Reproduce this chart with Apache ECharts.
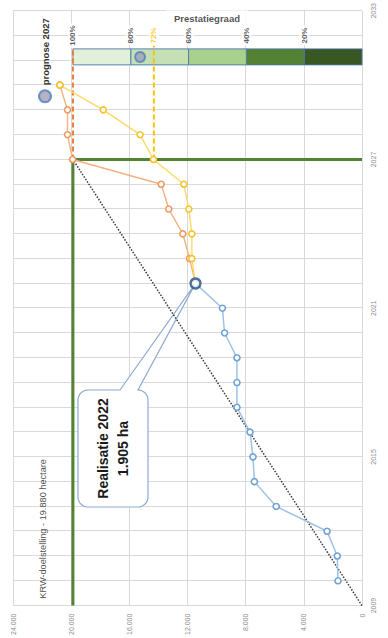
<!DOCTYPE html>
<html><head><meta charset="utf-8">
<script src="https://cdn.jsdelivr.net/npm/echarts@6/dist/echarts.min.js"></script>
<style>
html,body{margin:0;padding:0;width:388px;height:638px;overflow:hidden;background:#fff}
#wrap{position:absolute;left:0;top:0;width:638px;height:388px;transform-origin:0 0;transform:translate(0,638px) rotate(-90deg)}
</style></head><body>
<div id="wrap"></div>
<script>
// ---- data ----
const startYear = 2009;
const endYear = 2033;
const yearLabelStep = 6;
const valueMax = 24000;
const valueStep = 4000;
const realYears = [2010,2011,2012,2013,2014,2015,2016,2017,2018,2019,2020,2021,2022];
const realValues = [1650,1700,2400,5900,7400,7500,7700,8600,8600,8600,9450,9600,11450];
const progYears = [2022,2023,2024,2025,2026,2027,2028,2029,2030];
const orangeValues = [11450,11860,12320,13290,13810,19900,20250,20250,20780];
const yellowValues = [11450,11700,11700,11910,12250,14340,15260,17790,20780];
const targetValue = 19880;
const targetYear = 2027;
const pctBandEdges = [0,20,40,60,80,100];   // prestatiegraad bands (%)
const pctLabels = [100,80,60,40,20];
const yellowPct = 72;
const barYear = 2031.14;
const pctLabelYear = 2032;
const dashEndOrange = 2031.5;
const dashEndYellow = 2031.6;
const prognoseName = 'prognose 2027';
const prognosePoint = [2031.14, 15260];
const realLabelYear = 2022;
const titleText = 'Prestatiegraad';
const titlePos = [2032.70, 10660];
const krwText = 'KRW-doelstelling - 19.880 hectare';
const krwPos = [2009.28, 21950];
const calloutText = 'Realisatie 2022\n1.905 ha';

// ---- styles ----
const FONT = 'Liberation Sans, Arial, sans-serif';
const bandColors = ['#385723','#548235','#a9d18e','#c5e0b4','#e2f0d9'];

const fmt = v => String(v).replace(/\B(?=(\d{3})+(?!\d))/g, '.');
const pctToVal = p => p * targetValue / 100;

const chart = echarts.init(document.getElementById('wrap'), null, {renderer: 'svg', width: 638, height: 388});

const series = [];
// target step line
series.push({type:'line', name:'target', data:[[startYear,targetValue],[targetYear,targetValue],[targetYear,0]],
  symbol:'none', lineStyle:{color:'#548235', width:3}, z:3, silent:true});
// trajectory dotted
series.push({type:'line', name:'traject', data:[[startYear,0],[targetYear,targetValue]],
  symbol:'none', lineStyle:{color:'#3a3a3a', width:1.5, type:[1.5,1.5]}, z:7, silent:true});
// prestatiegraad bar (bands)
const bandData = [];
for (let i = 0; i < pctBandEdges.length - 1; i++) {
  bandData.push([barYear, pctToVal(pctBandEdges[i]), pctToVal(pctBandEdges[i+1]), i]);
}
series.push({type:'custom', name:'bands', data:bandData, encode:{x:0, y:[1,2]}, z:2, silent:true,
  renderItem:(params, api)=>{
    const x = api.value(0);
    const p0 = api.coord([x, api.value(1)]);
    const p1 = api.coord([x, api.value(2)]);
    const w = 16;
    return {type:'rect', shape:{x:p0[0]-w/2, y:p1[1], width:w, height:p0[1]-p1[1]},
      style:{fill:bandColors[api.value(3)], stroke:'#4a76a8', lineWidth:0.9}};
  }});
// dashed 100% and 72%
series.push({type:'line', name:'d100', data:[[targetYear,pctToVal(100)],[dashEndOrange,pctToVal(100)]],
  symbol:'none', lineStyle:{color:'#ed7d31', width:2, type:[5,3]}, z:4, silent:true});
series.push({type:'line', name:'d72', data:[[targetYear,pctToVal(yellowPct)],[dashEndYellow,pctToVal(yellowPct)]],
  symbol:'none', lineStyle:{color:'#ffc000', width:2, type:[5,3]}, z:4, silent:true});
// realisatie
series.push({type:'line', name:'realisatie', data: realYears.map((y,i)=>[y, realValues[i]]),
  symbol:'circle', symbolSize:6, lineStyle:{color:'#9dc3e6', width:1.5},
  itemStyle:{color:'#fff', borderColor:'#6fa3d8', borderWidth:1.6}, z:8});
// orange & yellow prognoses
const progData = vals => progYears.map((y,i)=> i===0 ? {value:[y,vals[i]], symbol:'none'} : [y, vals[i]]);
series.push({type:'line', name:'oranje', data: progData(orangeValues),
  symbol:'circle', symbolSize:6, lineStyle:{color:'#f4b183', width:1.4},
  itemStyle:{color:'#fff', borderColor:'#f19a5e', borderWidth:1.6}, z:8});
series.push({type:'line', name:'geel', data: progData(yellowValues),
  symbol:'circle', symbolSize:6, lineStyle:{color:'#ffd966', width:1.4},
  itemStyle:{color:'#fff', borderColor:'#f5c32c', borderWidth:1.6}, z:8});
// 2022 highlight
const realIdx = realYears.indexOf(realLabelYear);
series.push({type:'scatter', name:'r2022', data:[[realLabelYear, realValues[realIdx]]], symbolSize:10,
  itemStyle:{color:'#fff', borderColor:'#1f4e79', borderWidth:2.5}, z:20});
// prognose 2027 marker
series.push({type:'scatter', name:prognoseName, data:[prognosePoint], symbolSize:10,
  itemStyle:{color:'#a29fb9', borderColor:'#4f81bd', borderWidth:2}, z:9});
// percentage labels
series.push({type:'scatter', name:'pctLabels', symbolSize:1, itemStyle:{color:'rgba(0,0,0,0)'}, z:6, silent:true,
  data: pctLabels.map(p=>({value:[pctLabelYear, pctToVal(p)], name:p+'%'})).concat([
    {value:[pctLabelYear, pctToVal(yellowPct)], name: yellowPct+'%', label:{color:'#ffc000'}}]),
  label:{show:true, position:'inside', formatter: p=>p.name, fontSize:8, fontWeight:'bold', color:'#333',
    fontFamily:FONT, backgroundColor:'#fff', padding:[1,2]}});
// text annotations
series.push({type:'scatter', name:'texts', symbolSize:1, itemStyle:{color:'rgba(0,0,0,0)'}, z:6, silent:true,
  data:[
    {value:titlePos, name:titleText, label:{rotate:-90, fontSize:9.5, fontWeight:'bold', color:'#262626', backgroundColor:'#fff', padding:[3,8], align:'center'}},
    {value:krwPos, name:krwText, label:{fontSize:9.2, color:'#1a1a1a', align:'left'}}
  ],
  label:{show:true, position:'inside', formatter:p=>p.name, fontFamily:FONT, verticalAlign:'middle'}});

chart.setOption({
  animation:false,
  backgroundColor:'#fff',
  textStyle:{fontFamily:FONT},
  grid:{left:31, right:10.5, top:13, bottom:26, containLabel:false},
  legend:{data:[prognoseName], left:529.7, top:33, padding:5, itemWidth:12, itemHeight:12, icon:'circle', itemGap:4,
    textStyle:{fontSize:9.5, fontWeight:'bold', color:'#333', fontFamily:FONT}},
  xAxis:{type:'value', min:startYear, max:endYear, interval:1,
    axisLine:{show:false}, axisTick:{show:false},
    splitLine:{show:true, lineStyle:{color:'#d9d9d9', width:1}},
    axisLabel:{fontSize:7, color:'#8c8c8c', margin:8, fontFamily:FONT,
      formatter:v => ((v-startYear)%yearLabelStep===0 ? String(v) : '')}},
  yAxis:{type:'value', min:0, max:valueMax, interval:valueStep,
    axisLine:{show:false}, axisTick:{show:false},
    splitLine:{show:true, lineStyle:{color:'#d9d9d9', width:1}},
    axisLabel:{fontSize:7, color:'#8c8c8c', margin:8, fontFamily:FONT, formatter:v=>fmt(v)}},
  series
});

// callout
const tip = chart.convertToPixel({xAxisIndex:0, yAxisIndex:0}, [realLabelYear, realValues[realIdx]]);
const box = {u0:131, u1:248, v0:78, v1:148, r:10, wA:120, wB:138};
function arc(cx,cy,r,a0,a1){const pts=[];for(let k=0;k<=8;k++){const a=(a0+(a1-a0)*k/8)*Math.PI/180;pts.push([cx+r*Math.cos(a),cy+r*Math.sin(a)]);}return pts;}
let pts = [];
pts = pts.concat(arc(box.u1-box.r, box.v0+box.r, box.r, -90, 0));
pts.push([box.u1, box.wA], [tip[0], tip[1]], [box.u1, box.wB]);
pts = pts.concat(arc(box.u1-box.r, box.v1-box.r, box.r, 0, 90));
pts = pts.concat(arc(box.u0+box.r, box.v1-box.r, box.r, 90, 180));
pts = pts.concat(arc(box.u0+box.r, box.v0+box.r, box.r, 180, 270));
chart.setOption({graphic:[
  {type:'polygon', shape:{points:pts}, style:{fill:'#fff', stroke:'#8eaad2', lineWidth:1.2}, z:5},
  {type:'text', x:(box.u0+box.u1)/2, y:(box.v0+box.v1)/2, z:6,
    style:{text:calloutText, fontSize:14, fontWeight:'bold', fill:'#1a1a1a', align:'center', verticalAlign:'middle', lineHeight:20, fontFamily:FONT}}
]});
</script>
</body></html>
